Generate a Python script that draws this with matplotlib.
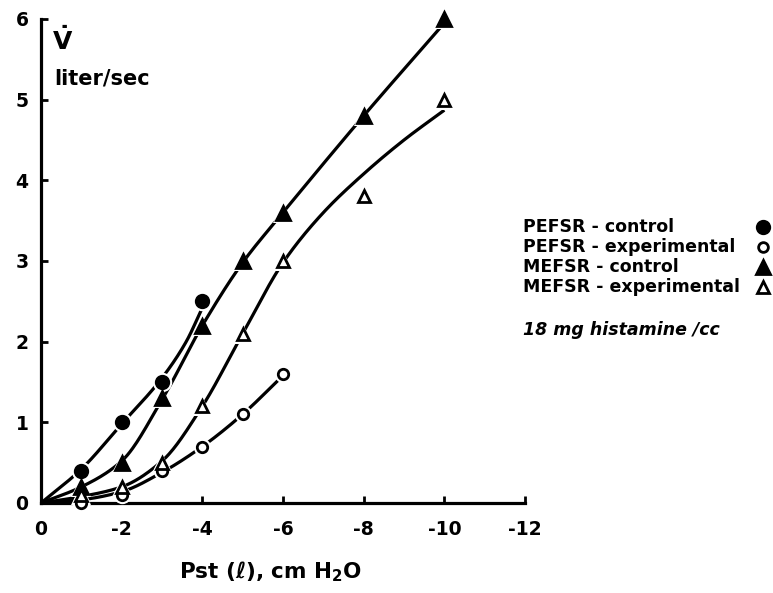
import numpy as np
import matplotlib
matplotlib.use("Agg")
import matplotlib.pyplot as plt

plt.rcParams['font.family'] = ['DejaVu Sans']
plt.rcParams['mathtext.default'] = 'bf'

# measured points
pefsr_c_x = [-1, -2, -3, -4]
pefsr_c_y = [0.4, 1.0, 1.5, 2.5]
pefsr_e_x = [-1, -2, -3, -4, -5, -6]
pefsr_e_y = [0.0, 0.1, 0.4, 0.7, 1.1, 1.6]
mefsr_c_x = [-1, -2, -3, -4, -5, -6, -8, -10]
mefsr_c_y = [0.2, 0.5, 1.3, 2.2, 3.0, 3.6, 4.8, 6.0]
mefsr_e_x = [-1, -2, -3, -4, -5, -6, -8, -10]
mefsr_e_y = [0.1, 0.2, 0.5, 1.2, 2.1, 3.0, 3.8, 5.0]

# hand-drawn fitted curves (knots)
fit_pc_x = [0, -1, -2, -3, -3.6, -4]
fit_pc_y = [0, 0.42, 0.98, 1.55, 2.0, 2.42]
fit_pe_x = [0, -1, -2, -3, -4, -5, -6]
fit_pe_y = [0, 0.04, 0.14, 0.38, 0.7, 1.1, 1.58]
fit_mc_x = [0, -1, -2, -3, -4, -5, -6, -8, -10]
fit_mc_y = [0, 0.2, 0.52, 1.28, 2.2, 2.98, 3.6, 4.8, 5.95]
fit_me_x = [0, -1, -2, -3, -4, -5, -6, -7, -8, -9, -10]
fit_me_y = [0, 0.08, 0.2, 0.52, 1.2, 2.1, 2.98, 3.6, 4.08, 4.5, 4.87]

x_ticks = [0, -2, -4, -6, -8, -10, -12]
x_tick_labels = ['0', '-2', '-4', '-6', '-8', '-10', '-12']
y_ticks = [0, 1, 2, 3, 4, 5, 6]
y_tick_labels = ['0', '1', '2', '3', '4', '5', '6']

legend_labels = ['PEFSR - control', 'PEFSR - experimental',
                 'MEFSR - control', 'MEFSR - experimental']
note = '18 mg histamine /cc'


def pchip(xk, yk, n=300):
    x = -np.asarray(xk, float)
    y = np.asarray(yk, float)
    h = np.diff(x)
    delta = np.diff(y) / h
    m = len(x)
    d = np.zeros(m)
    for k in range(1, m - 1):
        if delta[k - 1] * delta[k] > 0:
            w1 = 2 * h[k] + h[k - 1]
            w2 = h[k] + 2 * h[k - 1]
            d[k] = (w1 + w2) / (w1 / delta[k - 1] + w2 / delta[k])
    d[0] = delta[0]
    d[-1] = delta[-1]
    xs = np.linspace(x[0], x[-1], n)
    ys = np.empty_like(xs)
    for j, xv in enumerate(xs):
        i = min(np.searchsorted(x, xv, side='right') - 1, m - 2)
        t = (xv - x[i]) / h[i]
        h00 = 2 * t ** 3 - 3 * t ** 2 + 1
        h10 = t ** 3 - 2 * t ** 2 + t
        h01 = -2 * t ** 3 + 3 * t ** 2
        h11 = t ** 3 - t ** 2
        ys[j] = h00 * y[i] + h10 * h[i] * d[i] + h01 * y[i + 1] + h11 * h[i] * d[i + 1]
    return -xs, ys


fig = plt.figure(figsize=(7.73, 5.93), dpi=100)
ax = fig.add_axes([41 / 773, 1 - 503 / 593, 484 / 773, 484 / 593])

lw = 2.3
for fx, fy in [(fit_pc_x, fit_pc_y), (fit_pe_x, fit_pe_y),
               (fit_mc_x, fit_mc_y), (fit_me_x, fit_me_y)]:
    sx, sy = pchip(fx, fy)
    ax.plot(sx, sy, color='black', lw=lw, solid_capstyle='butt', zorder=2)

series = [
    (pefsr_c_x, pefsr_c_y, 'o', 'black', 9),
    (pefsr_e_x, pefsr_e_y, 'o', 'white', 7.5),
    (mefsr_c_x, mefsr_c_y, '^', 'black', 10),
    (mefsr_e_x, mefsr_e_y, '^', 'white', 9),
]
for x, y, mk, fc, ms in series:
    # white halo to create gaps in the curves near markers
    ax.plot(x, y, linestyle='none', marker=mk, ms=ms + 5, mfc='white',
            mec='white', mew=0, zorder=3, clip_on=False)
    ax.plot(x, y, linestyle='none', marker=mk, ms=ms, mfc=fc,
            mec='black', mew=2.0, zorder=4, clip_on=False)

ax.set_xlim(0, -12)
ax.set_ylim(0, 6)
ax.set_xticks(x_ticks)
ax.set_xticklabels(x_tick_labels, fontsize=13.5, fontweight='bold')
ax.set_yticks(y_ticks)
ax.set_yticklabels(y_tick_labels, fontsize=13.5, fontweight='bold')
for s in ['top', 'right']:
    ax.spines[s].set_visible(False)
for s in ['left', 'bottom']:
    ax.spines[s].set_linewidth(2.3)
ax.tick_params(direction='in', length=5, width=2, pad=12)
ax.tick_params(axis='y', pad=9)

fig.text(270 / 773, 1 - 572 / 593, r'Pst (ℓ), cm H$_2$O', fontsize=15.5,
         fontweight='bold', ha='center', va='center')
fig.text(63 / 773, 1 - 41 / 593, r'$\dot{\mathbf{V}}$', fontsize=18,
         ha='center', va='center')
fig.text(54 / 773, 1 - 78 / 593, 'liter/sec', fontsize=15,
         fontweight='bold', ha='left', va='center')

rows_y = [227, 247, 267, 287]
markers = [('o', 'black', 9), ('o', 'white', 7), ('^', 'black', 10), ('^', 'white', 9)]
for lab, ry, (mk, fc, ms) in zip(legend_labels, rows_y, markers):
    fig.text(523 / 773, 1 - ry / 593, lab, fontsize=12.5, fontweight='bold',
             ha='left', va='center')
    fig.add_artist(matplotlib.lines.Line2D([763 / 773], [1 - ry / 593],
                   marker=mk, ms=ms, mfc=fc, mec='black', mew=2.0,
                   linestyle='none', transform=fig.transFigure))
fig.text(523 / 773, 1 - 330 / 593, note, fontsize=12.5, fontweight='bold',
         style='italic', ha='left', va='center')

fig.savefig('out.png', dpi=100)
